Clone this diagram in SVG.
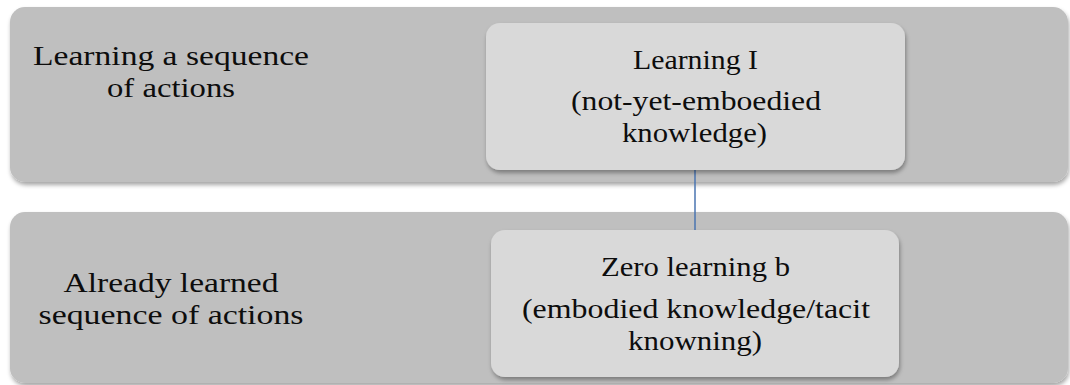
<svg xmlns="http://www.w3.org/2000/svg" width="1070" height="385" viewBox="0 0 1070 385">
<defs>
<filter id="sh" x="-5%" y="-10%" width="110%" height="130%">
<feDropShadow dx="1" dy="3" stdDeviation="2" flood-color="#000" flood-opacity="0.35"/>
</filter>
<style>
.band{fill:#BFBFBF;filter:url(#sh)}
.box{fill:#D9D9D9;filter:url(#sh)}
.t{font-family:"Liberation Serif","Times New Roman",serif;font-size:28px;fill:#0d0d0d;text-anchor:middle}
.c{stroke:#4A74B0;stroke-width:1.5;fill:none}
</style>
</defs>
<g id="band-top">
<rect class="band" x="10" y="7" width="1058" height="175" rx="15"/>
<text class="t" x="171" y="65" textLength="276" lengthAdjust="spacingAndGlyphs">Learning a sequence</text>
<text class="t" x="171" y="97" textLength="128" lengthAdjust="spacingAndGlyphs">of actions</text>
</g>
<g id="band-bottom">
<rect class="band" x="10" y="212" width="1058" height="171" rx="15"/>
<text class="t" x="171" y="292" textLength="215" lengthAdjust="spacingAndGlyphs">Already learned</text>
<text class="t" x="171" y="324" textLength="265" lengthAdjust="spacingAndGlyphs">sequence of actions</text>
</g>
<g id="connectors">
<line class="c" x1="695" y1="170" x2="695" y2="230"/>
</g>
<g id="node-learning-1">
<rect class="box" x="486" y="23" width="419" height="147" rx="14"/>
<text class="t" x="695.5" y="69" textLength="125" lengthAdjust="spacingAndGlyphs">Learning I</text>
<text class="t" x="696" y="110" textLength="250" lengthAdjust="spacingAndGlyphs">(not-yet-emboedied</text>
<text class="t" x="694.5" y="142" textLength="145" lengthAdjust="spacingAndGlyphs">knowledge)</text>
</g>
<g id="node-zero-learning">
<rect class="box" x="491" y="230" width="408" height="147" rx="14"/>
<text class="t" x="695.5" y="276" textLength="189" lengthAdjust="spacingAndGlyphs">Zero learning b</text>
<text class="t" x="696" y="318" textLength="348" lengthAdjust="spacingAndGlyphs">(embodied knowledge/tacit</text>
<text class="t" x="695" y="350" textLength="134" lengthAdjust="spacingAndGlyphs">knowning)</text>
</g>
</svg>
